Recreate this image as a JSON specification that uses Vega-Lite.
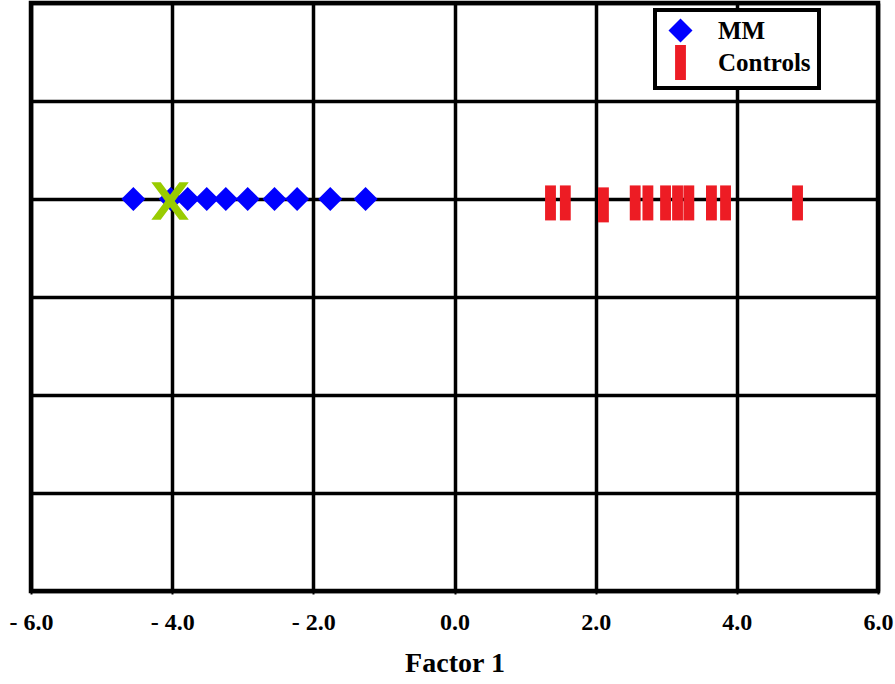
{
  "$schema": "https://vega.github.io/schema/vega-lite/v6.json",
  "width": 847,
  "height": 588,
  "autosize": "none",
  "padding": {"left": 31, "top": 3, "right": 17, "bottom": 93},
  "background": "white",
  "config": {"view": {"stroke": "black", "strokeWidth": 4.5}, "font": "Liberation Serif"},
  "datasets": {
    "groups": [
      {"factor1": -4.55, "factor2": 4, "group": "MM"},
      {"factor1": -4.02, "factor2": 4, "group": "MM"},
      {"factor1": -3.78, "factor2": 4, "group": "MM"},
      {"factor1": -3.51, "factor2": 4, "group": "MM"},
      {"factor1": -3.24, "factor2": 4, "group": "MM"},
      {"factor1": -2.93, "factor2": 4, "group": "MM"},
      {"factor1": -2.55, "factor2": 4, "group": "MM"},
      {"factor1": -2.23, "factor2": 4, "group": "MM"},
      {"factor1": -1.76, "factor2": 4, "group": "MM"},
      {"factor1": -1.26, "factor2": 4, "group": "MM"},
      {"factor1": 1.36, "factor2": 3.96, "group": "Controls"},
      {"factor1": 1.57, "factor2": 3.96, "group": "Controls"},
      {"factor1": 2.11, "factor2": 3.94, "group": "Controls"},
      {"factor1": 2.56, "factor2": 3.96, "group": "Controls"},
      {"factor1": 2.74, "factor2": 3.96, "group": "Controls"},
      {"factor1": 2.99, "factor2": 3.96, "group": "Controls"},
      {"factor1": 3.16, "factor2": 3.96, "group": "Controls"},
      {"factor1": 3.32, "factor2": 3.96, "group": "Controls"},
      {"factor1": 3.64, "factor2": 3.96, "group": "Controls"},
      {"factor1": 3.84, "factor2": 3.96, "group": "Controls"},
      {"factor1": 4.86, "factor2": 3.96, "group": "Controls"}
    ],
    "marker": [{"factor1": -4.03, "factor2": 3.98, "label": "X"}]
  },
  "layer": [
    {
      "data": {"name": "groups"},
      "mark": {"type": "point", "filled": true, "opacity": 1, "strokeWidth": 0},
      "encoding": {
        "x": {
          "field": "factor1", "type": "quantitative",
          "scale": {"domain": [-6, 6], "nice": false, "zero": false},
          "axis": {
            "title": "Factor 1",
            "values": [-6, -4, -2, 0, 2, 4, 6],
            "labelExpr": "datum.value < 0 ? '- ' + format(-datum.value, '.1f') : format(datum.value, '.1f')",
            "labelFont": "Liberation Serif", "labelFontWeight": "bold", "labelFontSize": 24, "labelColor": "black",
            "labelPadding": 16, "labelFlush": false, "labelOverlap": false,
            "tickSize": 3, "tickColor": "black", "tickWidth": 2,
            "domain": false,
            "grid": true, "gridColor": "black", "gridWidth": 3.5, "gridOpacity": 1,
            "titleFont": "Liberation Serif", "titleFontWeight": "bold", "titleFontSize": 28, "titleColor": "black",
            "titlePadding": 15
          }
        },
        "y": {
          "field": "factor2", "type": "quantitative",
          "scale": {"domain": [0, 6], "nice": false},
          "axis": {
            "title": null, "values": [0, 1, 2, 3, 4, 5, 6],
            "labels": false, "ticks": false, "domain": false,
            "grid": true, "gridColor": "black", "gridWidth": 3.5, "gridOpacity": 1
          }
        },
        "color": {
          "field": "group", "type": "nominal",
          "scale": {"domain": ["MM", "Controls"], "range": ["#0000FF", "#ED1C24"]},
          "legend": {
            "title": null, "orient": "none", "legendX": 624, "legendY": 7,
            "strokeColor": "black", "fillColor": "white",
            "padding": 8, "rowPadding": 1,
            "labelFont": "Liberation Serif", "labelFontWeight": "bold", "labelFontSize": 25, "labelColor": "black",
            "labelOffset": 20, "symbolSize": 729, "symbolOpacity": 1, "symbolStrokeWidth": 0,
            "encode": {
              "legend": {"update": {"strokeWidth": {"value": 4}}},
              "symbols": {
                "update": {
                  "size": {"signal": "datum.value === 'MM' ? 729 : 400"},
                  "shape": {"signal": "datum.value === 'MM' ? 'diamond' : 'M-0.6,-1L0.6,-1L0.6,1L-0.6,1Z'"}
                }
              }
            }
          }
        },
        "shape": {
          "field": "group", "type": "nominal",
          "scale": {"domain": ["MM", "Controls"], "range": ["diamond", "M-0.31,-1L0.31,-1L0.31,1L-0.31,1Z"]}
        },
        "size": {
          "field": "group", "type": "ordinal",
          "scale": {"domain": ["MM", "Controls"], "range": [576, 1225]},
          "legend": null
        }
      }
    },
    {
      "data": {"name": "marker"},
      "mark": {
        "type": "point", "filled": true, "opacity": 1, "strokeWidth": 0, "color": "#99CC00", "size": 1400,
        "shape": "M-1,-1L-0.5,-1L0,-0.333L0.5,-1L1,-1L0.25,0L1,1L0.5,1L0,0.333L-0.5,1L-1,1L-0.25,0Z"
      },
      "encoding": {
        "x": {"field": "factor1", "type": "quantitative"},
        "y": {"field": "factor2", "type": "quantitative"}
      }
    }
  ]
}
